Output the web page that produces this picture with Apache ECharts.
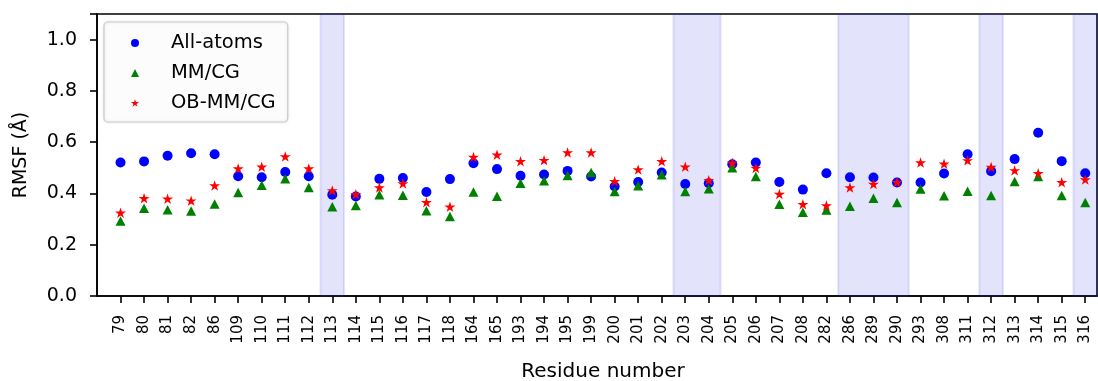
<!DOCTYPE html>
<html>
<head>
<meta charset="utf-8">
<script src="https://cdn.jsdelivr.net/npm/echarts@6/dist/echarts.min.js"></script>
<style>
  html, body { margin: 0; padding: 0; background: #fff; }
  #chart { width: 1098px; height: 381px; }
</style>
</head>
<body>
<div id="chart"></div>
<script>
// residues on the x axis
var residues = ['79', '80', '81', '82', '86', '109', '110', '111', '112', '113', '114', '115', '116', '117', '118',
  '164', '165', '193', '194', '195', '199', '200', '201', '202', '203', '204', '205', '206', '207', '208', '282',
  '286', '289', '290', '293', '308', '311', '312', '313', '314', '315', '316'];

// RMSF values (Å)
var allAtoms = [0.521, 0.525, 0.547, 0.557, 0.553, 0.467, 0.463, 0.484, 0.467, 0.395, 0.388, 0.457, 0.460, 0.406, 0.456,
  0.518, 0.495, 0.469, 0.474, 0.488, 0.466, 0.427, 0.445, 0.482, 0.437, 0.440, 0.514, 0.521, 0.445, 0.415, 0.479,
  0.463, 0.462, 0.443, 0.443, 0.478, 0.553, 0.487, 0.534, 0.637, 0.526, 0.479];
var mmcg = [0.293, 0.342, 0.336, 0.332, 0.359, 0.404, 0.432, 0.457, 0.423, 0.348, 0.353, 0.395, 0.393, 0.333, 0.310,
  0.406, 0.389, 0.440, 0.450, 0.470, 0.482, 0.408, 0.430, 0.473, 0.408, 0.418, 0.500, 0.466, 0.358, 0.327, 0.335,
  0.350, 0.381, 0.365, 0.417, 0.391, 0.409, 0.392, 0.447, 0.466, 0.392, 0.365];
var obmmcg = [0.325, 0.381, 0.379, 0.372, 0.431, 0.497, 0.504, 0.544, 0.497, 0.412, 0.397, 0.423, 0.439, 0.366, 0.348,
  0.542, 0.551, 0.526, 0.530, 0.560, 0.560, 0.448, 0.493, 0.526, 0.504, 0.452, 0.520, 0.499, 0.398, 0.358, 0.353,
  0.423, 0.437, 0.444, 0.521, 0.516, 0.529, 0.503, 0.490, 0.479, 0.444, 0.454];

// shaded groups of residues [first, last]
var shadedGroups = [['113', '113'], ['203', '204'], ['286', '290'], ['312', '312'], ['316', '316']];

var yTicks = [0, 0.2, 0.4, 0.6, 0.8, 1.0];

var starPath = 'path://M50,0 L61.2,34.5 L97.6,34.5 L68.2,55.9 L79.4,90.5 L50,69.1 L20.6,90.5 L31.8,55.9 L2.4,34.5 L38.8,34.5 Z';

var chart = echarts.init(document.getElementById('chart'));

var idx = residues.map(function (r, i) { return i; });
function pairs(vals) {
  return vals.map(function (v, i) { return [i, v]; });
}
var areas = shadedGroups.map(function (g) {
  return [{ xAxis: residues.indexOf(g[0]) - 0.5 }, { xAxis: residues.indexOf(g[1]) + 0.5 }];
});

var font = 'DejaVu Sans';
var ink = '#000';

var option = {
  animation: false,
  grid: {
    left: 97, right: 1, top: 14, bottom: 85,
    outerBoundsMode: 'none', containLabel: false,
    show: true, borderColor: ink, borderWidth: 1.6
  },
  legend: {
    data: ['All-atoms', 'MM/CG', 'OB-MM/CG'],
    orient: 'vertical',
    left: 104,
    top: 22,
    itemWidth: 8,
    itemHeight: 8,
    itemGap: 8,
    padding: [10, 12, 8, 27],
    borderColor: '#cccccc',
    borderWidth: 1.2,
    borderRadius: 4,
    backgroundColor: 'rgba(255,255,255,0.85)',
    shadowColor: 'rgba(0,0,0,0.12)',
    shadowBlur: 3,
    textStyle: { fontFamily: font, fontSize: 19.5, color: ink, lineHeight: 22, padding: [0, 0, 0, 27] }
  },
  xAxis: {
    type: 'value',
    min: -1,
    max: residues.length - 0.5,
    name: 'Residue number',
    nameLocation: 'middle',
    nameGap: 66,
    nameTextStyle: { fontFamily: font, fontSize: 20, color: ink, padding: [0, 0, 0, 12] },
    axisLine: { onZero: false, lineStyle: { color: ink, width: 1.6 } },
    axisTick: { customValues: idx, length: 7, lineStyle: { color: ink, width: 1.6 } },
    axisLabel: {
      customValues: idx, rotate: 90, margin: 19, fontFamily: font, fontSize: 15, color: ink,
      formatter: function (v) { return residues[Math.round(v)] || ''; }
    },
    splitLine: { show: false }
  },
  yAxis: {
    type: 'value',
    min: 0,
    max: 1.1,
    interval: 0.2,
    name: 'RMSF (Å)',
    nameLocation: 'middle',
    nameGap: 66,
    nameTextStyle: { fontFamily: font, fontSize: 19, color: ink },
    axisLine: { show: true, onZero: false, lineStyle: { color: ink, width: 1.6 } },
    axisTick: { show: true, length: 7, lineStyle: { color: ink, width: 1.6 } },
    axisLabel: {
      fontFamily: font, fontSize: 19, color: ink, margin: 20,
      formatter: function (v) { return yTicks.indexOf(Math.round(v * 10) / 10) >= 0 ? v.toFixed(1) : ''; }
    },
    splitLine: { show: false }
  },
  series: [{
    name: 'All-atoms',
    type: 'scatter',
    data: pairs(allAtoms),
    symbol: 'circle',
    symbolSize: 10,
    itemStyle: { color: '#0000ff', opacity: 1 },
    z: 3,
    markArea: {
      silent: true,
      z: 1,
      itemStyle: { color: 'rgba(40,40,235,0.13)', borderColor: 'rgba(40,40,235,0.12)', borderWidth: 2 },
      data: areas
    }
  }, {
    name: 'MM/CG',
    type: 'scatter',
    data: pairs(mmcg),
    symbol: 'triangle',
    symbolSize: [10, 9.5],
    itemStyle: { color: '#008000', opacity: 1 },
    z: 4
  }, {
    name: 'OB-MM/CG',
    type: 'scatter',
    data: pairs(obmmcg),
    symbol: starPath,
    symbolKeepAspect: true,
    symbolSize: 11,
    itemStyle: { color: '#ff0000', opacity: 1 },
    z: 5
  }]
};

chart.setOption(option);
</script>
</body>
</html>
